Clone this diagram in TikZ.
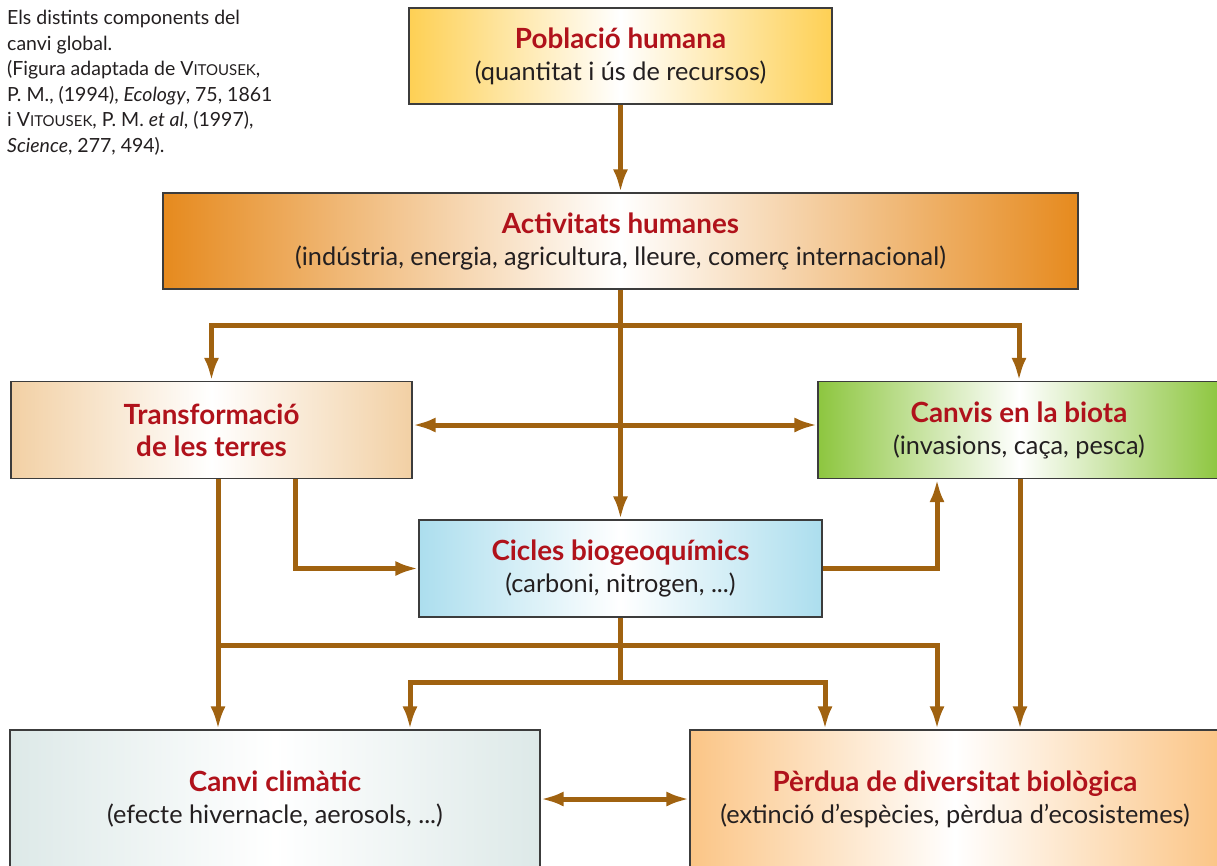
\documentclass[tikz,border=0pt]{standalone}
\usepackage{fontspec}
\setmainfont{Lato}
\usetikzlibrary{arrows.meta}
\definecolor{brn}{RGB}{160,98,16}
\definecolor{ttl}{RGB}{176,18,27}
\definecolor{txt}{RGB}{35,31,32}
\definecolor{frm}{RGB}{60,60,60}
\definecolor{cPob}{RGB}{254,208,84}
\definecolor{cAct}{RGB}{230,138,30}
\definecolor{cTra}{RGB}{242,208,164}
\definecolor{cBio}{RGB}{141,198,63}
\definecolor{cCic}{RGB}{172,222,238}
\definecolor{cCli}{RGB}{221,233,232}
\definecolor{cPer}{RGB}{251,197,134}
\tikzset{
  box/.style={draw=frm, line width=1.2pt, rectangle, align=center, inner sep=0pt,
    font=\fontsize{25.3}{32}\selectfont, text=txt},
  shade/.style={left color=#1, right color=#1, middle color=white},
  arr/.style={draw=brn, line width=5pt, -{Latex[length=23pt,width=15pt]}},
  darr/.style={draw=brn, line width=5pt, {Latex[length=23pt,width=15pt]}-{Latex[length=23pt,width=15pt]}},
  ln/.style={draw=brn, line width=5pt},
}
\newcommand{\ttl}[1]{{\color{ttl}\bfseries\fontsize{27.8}{32}\selectfont #1}}
\newcommand{\vsc}[1]{{\fontsize{15}{25}\selectfont #1}}
\begin{document}
\begin{tikzpicture}[x=1pt,y=-1pt]
\useasboundingbox (0,0) rectangle (1217,865);
% nodes
\node[box, shade=cPob, minimum width=423pt, minimum height=96pt] (pob) at (620.5,56)
  {\ttl{Població humana}\\(quantitat i ús de recursos)};
\node[box, shade=cAct, minimum width=915pt, minimum height=96pt] (act) at (620.5,241)
  {\ttl{Activitats humanes}\\(indústria, energia, agricultura, lleure, comerç internacional)};
\node[box, shade=cTra, minimum width=401pt, minimum height=97pt] (tra) at (211.5,430)
  {\ttl{Transformació}\\\ttl{de les terres}};
\node[box, shade=cBio, minimum width=402pt, minimum height=97pt] (bio) at (1019,430)
  {\ttl{Canvis en la biota}\\(invasions, caça, pesca)};
\node[box, shade=cCic, minimum width=403pt, minimum height=97pt] (cic) at (620.5,568.5)
  {\ttl{Cicles biogeoquímics}\\(carboni, nitrogen, ...)};
\node[box, shade=cCli, minimum width=530pt, minimum height=138pt] (cli) at (275,799)
  {\ttl{Canvi climàtic}\\(efecte hivernacle, aerosols, ...)};
\node[box, shade=cPer, minimum width=530pt, minimum height=138pt] (per) at (955,799)
  {\ttl{Pèrdua de diversitat biològica}\\(extinció d’espècies, pèrdua d’ecosistemes)};
% caption
\node[anchor=north west, align=left, inner sep=0pt, text=txt,
  font=\fontsize{19.5}{25.5}\selectfont] (cap) at (7,10)
  {Els distints components del\\canvi global.\\(Figura adaptada de V\vsc{ITOUSEK},\\
   P. M., (1994), \textit{Ecology}, 75, 1861\\i V\vsc{ITOUSEK}, P. M. \textit{et al}, (1997),\\
   \textit{Science}, 277, 494).};
% helper coordinates
\coordinate (x218) at (218,0);
\coordinate (x295) at (295,0);
\coordinate (x410) at (410,0);
\coordinate (x825) at (825,0);
\coordinate (x937) at (937,0);
\coordinate (x1020) at (1020,0);
\coordinate (j1) at (620.5,325);
\coordinate (j2) at (218,645);
\coordinate (j3) at (620.5,682);
% connectors
\draw[arr] (pob) -- (act);
\draw[arr] (act.south) -- (cic.north);
\draw[arr] (j1) -| (tra.north);
\draw[arr] (j1) -| (bio.north);
\draw[darr] ([yshift=5pt]tra.east) -- ([yshift=5pt]bio.west);
\draw[arr] (tra.south -| x295) |- (cic.west);
\draw[arr] (cic.east) -| (bio.south -| x937);
\draw[arr] (tra.south -| x218) -- (cli.north -| x218);
\draw[arr] (j2) -| (per.north -| x937);
\draw[ln] (cic.south) -- (j3);
\draw[arr] (j3) -| (cli.north -| x410);
\draw[arr] (j3) -| (per.north -| x825);
\draw[arr] (bio.south -| x1020) -- (per.north -| x1020);
\draw[darr] (cli.east) -- (per.west);
\end{tikzpicture}
\end{document}
